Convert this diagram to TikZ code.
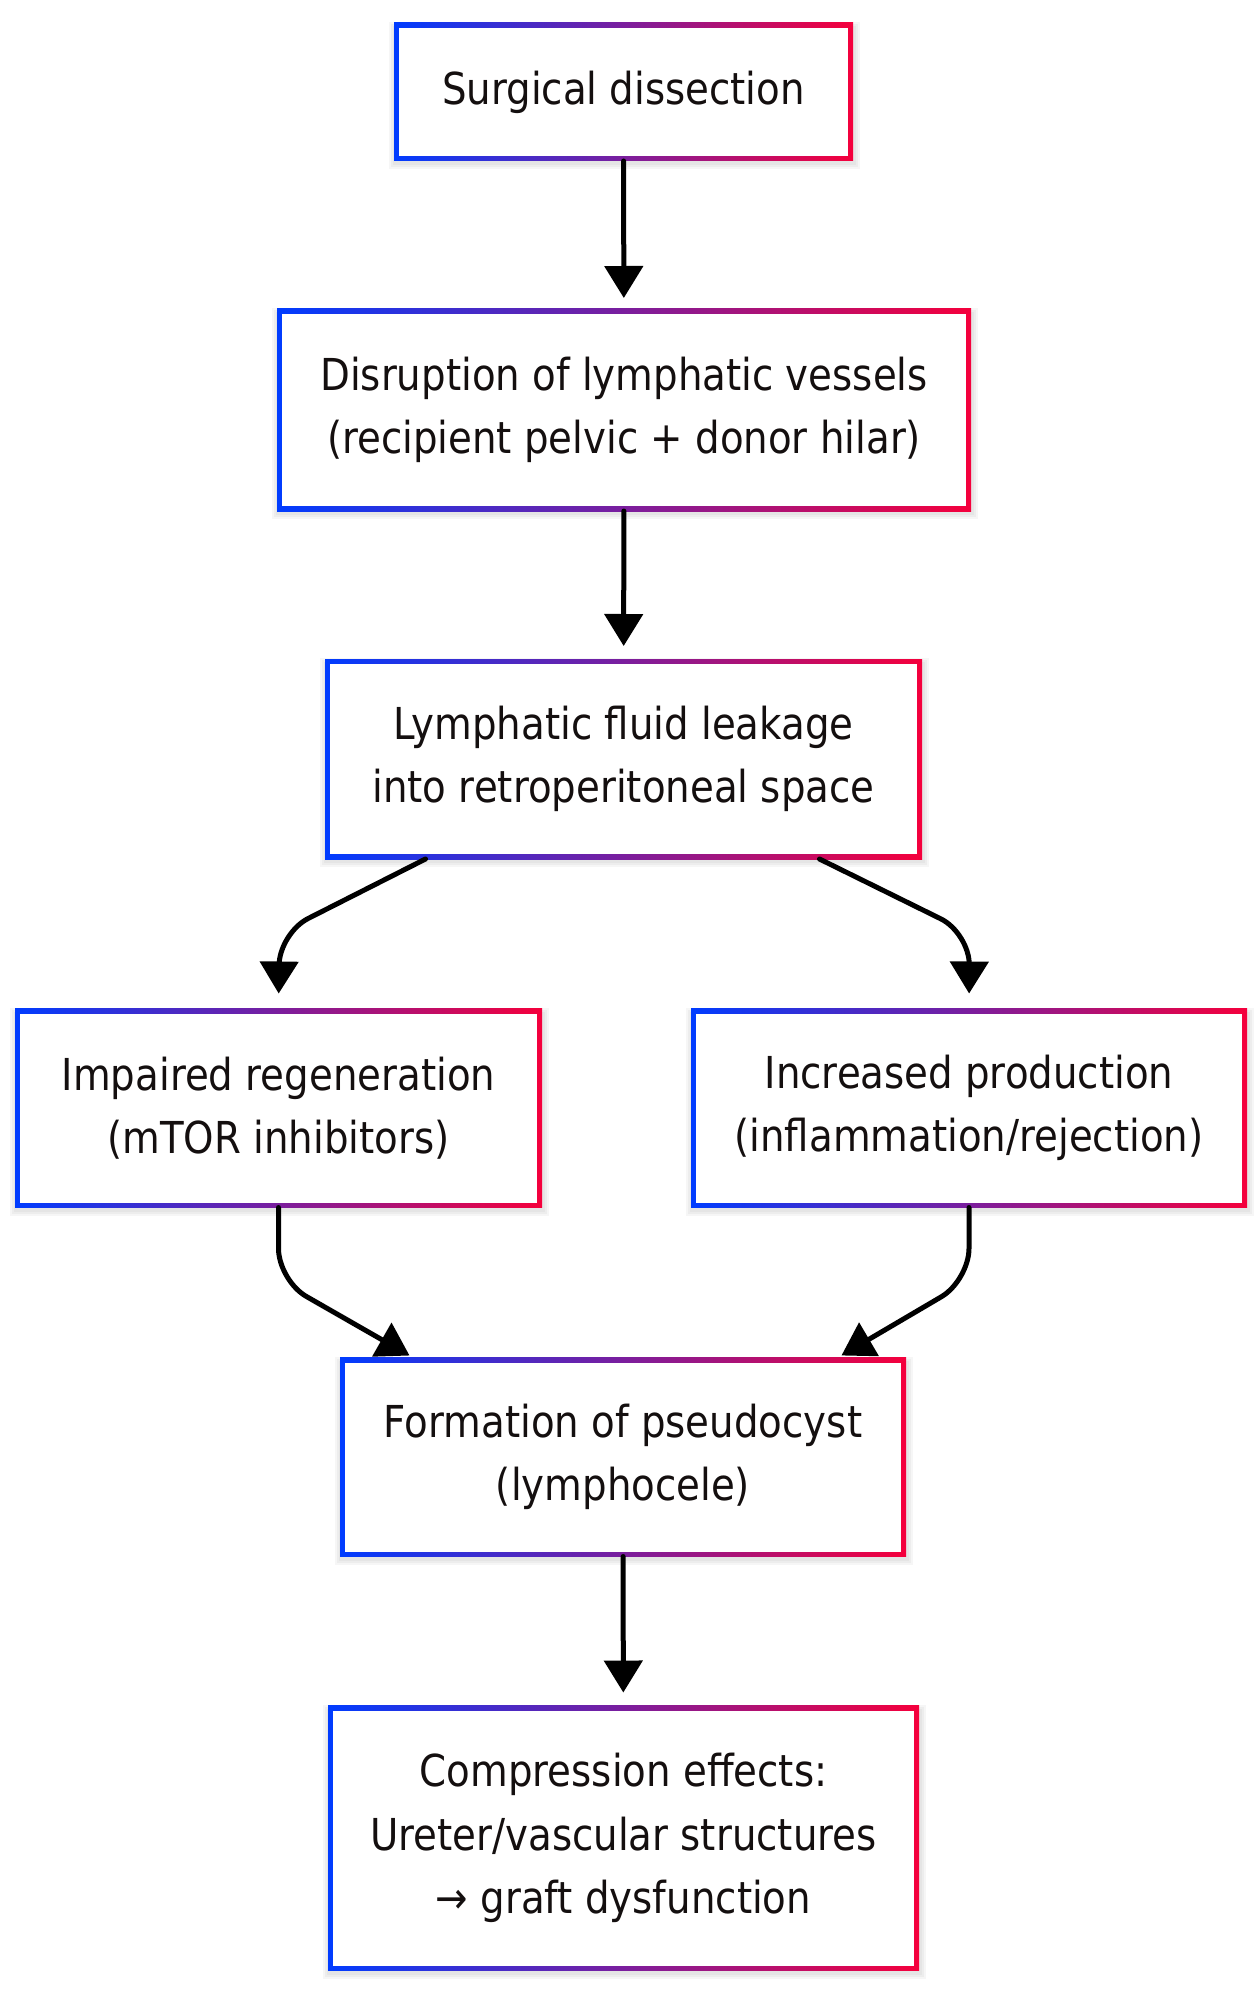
\documentclass[tikz,border=0pt]{standalone}
\usepackage{fontspec}
\setmainfont{DejaVu Sans}[FakeStretch=0.88]
\usetikzlibrary{arrows.meta,backgrounds}

\definecolor{azulborde}{RGB}{0,60,255}
\definecolor{rojoborde}{RGB}{245,0,60}
\definecolor{textocaja}{RGB}{20,15,15}

\begin{document}
\begin{tikzpicture}[x=0.5pt,y=-0.5pt,line cap=round,line join=round,
    caja/.style={fill=white,inner sep=0pt,outer sep=2.5pt,align=center,
        text=textocaja,font=\fontsize{22pt}{31.75pt}\selectfont},
    marco/.style={left color=azulborde,right color=rojoborde},
    sombra/.style={fill=black,opacity=0.035},
    flecha/.style={-{Triangle[width=19pt,length=16pt]},line width=2.5pt}]
        \useasboundingbox (0,0) rectangle (1258,1990);

        % Cajas del diagrama
        \node[caja,minimum width=224.5pt,minimum height=64pt] (disec) at (623.5,92) {Surgical dissection};
        \node[caja,minimum width=342pt,minimum height=96pt] (ruptura) at (624,410)
            {Disruption of lymphatic vessels\\(recipient pelvic + donor hilar)};
        \node[caja,minimum width=293.5pt,minimum height=95pt] (fuga) at (623.5,759)
            {Lymphatic fluid leakage\\into retroperitoneal space};
        \node[caja,minimum width=258.5pt,minimum height=94.5pt] (regen) at (278.5,1108)
            {Impaired regeneration\\(mTOR inhibitors)};
        \node[caja,minimum width=273pt,minimum height=94.5pt] (aumento) at (969,1108)
            {Increased production\\(inflammation/rejection)};
        \node[caja,minimum width=278pt,minimum height=94.5pt] (pseudo) at (623,1457)
            {Formation of pseudocyst\\(lymphocele)};
        \node[caja,minimum width=290.5pt,minimum height=127.5pt] (compresion) at (623.5,1838)
            {Compression effects:\\Ureter/vascular structures\\→ graft dysfunction};

        % Bordes con degradado y sombra suave
        \begin{scope}[on background layer]
            \foreach \n in {disec,ruptura,fuga,regen,aumento,pseudo,compresion} {
                \foreach \d in {0.5,1.5,2.5}
                    \fill[sombra] ([xshift={-\d*1pt},yshift={-1.5pt-\d*1pt}]\n.south west)
                        rectangle ([xshift={1pt+\d*1pt},yshift={\d*1pt-2pt}]\n.north east);
                \shade[marco] (\n.south west) rectangle (\n.north east);
            }
        \end{scope}

        % Flechas
        \draw[flecha,shorten >=5.5pt] (disec) -- (ruptura);
        \draw[flecha,shorten >=6.5pt] (ruptura) -- (fuga);
        \draw[flecha,shorten >=7.5pt,rounded corners=16pt]
            ([xshift=-99pt]fuga.south) -- ++(-73pt,-37pt) -- (regen.north);
        \draw[flecha,shorten >=7.5pt,rounded corners=16pt]
            ([xshift=98pt]fuga.south) -- ++(75pt,-37pt) -- (aumento.north);
        \draw[flecha,shorten >=2pt,rounded corners=16pt]
            (regen.south) -- ++(0,-36.5pt) -- ([xshift=-105pt]pseudo.north);
        \draw[flecha,shorten >=2pt,rounded corners=16pt]
            (aumento.south) -- ++(0,-36.5pt) -- ([xshift=107.5pt]pseudo.north);
        \draw[flecha,shorten >=6.5pt] (pseudo) -- (compresion);
    \end{tikzpicture}
\end{document}
